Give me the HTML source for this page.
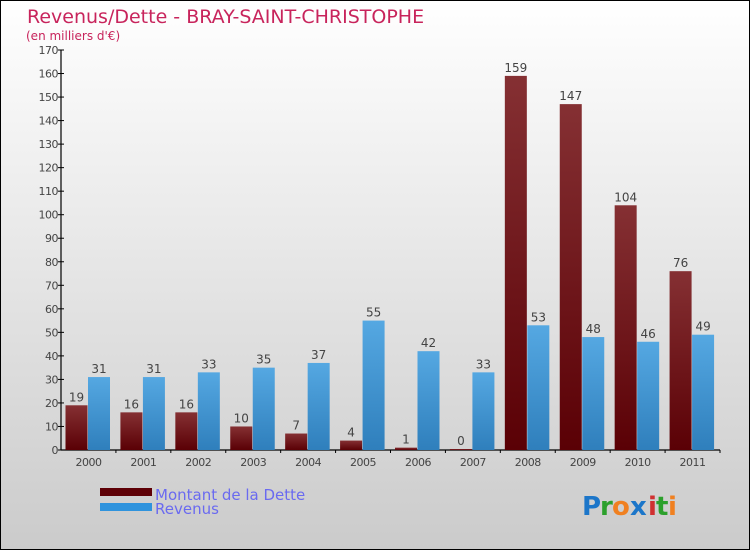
<!DOCTYPE html>
<html><head><meta charset="utf-8"><style>
body{margin:0;}
#c{width:750px;height:550px;position:relative;font-family:"DejaVu Sans","Liberation Sans",sans-serif;}
</style></head><body>
<div id="c">
<svg width="750" height="550" xmlns="http://www.w3.org/2000/svg" id="svg">
<defs>
<linearGradient id="bg" x1="0" y1="0" x2="0" y2="1"><stop offset="0" stop-color="#ffffff"/><stop offset="1" stop-color="#cbcbcb"/></linearGradient>
<linearGradient id="gd" x1="0" y1="0" x2="0" y2="1"><stop offset="0" stop-color="#853033"/><stop offset="1" stop-color="#5a0005"/></linearGradient>
<linearGradient id="gr" x1="0" y1="0" x2="0" y2="1"><stop offset="0" stop-color="#55a8e2"/><stop offset="1" stop-color="#2f7fbc"/></linearGradient>
</defs>
<rect x="0.5" y="0.5" width="749" height="549" fill="url(#bg)" stroke="#000"/>
<text x="27" y="23" font-size="19" fill="#c8245c">Revenus/Dette - BRAY-SAINT-CHRISTOPHE</text>
<text x="26" y="40" font-size="12" fill="#c8245c">(en milliers d'€)</text>
<g id="axes"></g>
<g id="bars"></g>
<rect x="100" y="488" width="52" height="8" fill="#5e0006"/>
<rect x="100" y="503" width="52" height="8" fill="#2f93dd"/>
<text x="155" y="500" font-size="15" fill="#6a6af0">Montant de la Dette</text>
<text x="155" y="514" font-size="15" fill="#6a6af0">Revenus</text>
<g font-size="26" font-weight="bold">
<text x="582" y="515" fill="#1c76c9">P</text><text x="600" y="515" fill="#2ca02c">r</text><text x="612" y="515" fill="#f08020">o</text><text x="630" y="515" fill="#1c76c9">x</text><text x="648" y="515" fill="#d03030">i</text><text x="656" y="515" fill="#2ca02c">t</text><text x="668" y="515" fill="#f08020">i</text>
</g>
</svg>
</div>
<script>
const years=["2000","2001","2002","2003","2004","2005","2006","2007","2008","2009","2010","2011"];
const dette=[19,16,16,10,7,4,1,0,159,147,104,76];
const revenus=[31,31,33,35,37,55,42,33,53,48,46,49];
const yTicks=[0,10,20,30,40,50,60,70,80,90,100,110,120,130,140,150,160,170];
const NS="http://www.w3.org/2000/svg";
const x0=61,x1=720,y0=450,yTop=50,yMax=170;
const gw=(x1-x0)/years.length;
const y=v=>y0-(v/yMax)*(y0-yTop);
function mk(tag,attrs,parent){const e=document.createElementNS(NS,tag);for(const k in attrs)e.setAttribute(k,attrs[k]);parent.appendChild(e);return e;}
const ax=document.getElementById('axes'),bg=document.getElementById('bars');
let l=mk('line',{x1:x0,y1:y0,x2:x1,y2:y0,stroke:'#000','stroke-width':1.2},ax);


l=mk('line',{x1:x0,y1:y0,x2:x0,y2:yTop,stroke:'#000','stroke-width':1.2},ax);


yTicks.forEach(t=>{
 const tk=mk('line',{x1:x0-3,x2:x0+3,y1:y(t),y2:y(t),stroke:'#000'},ax);
 
 
 const tx=mk('text',{x:x0-3,y:y(t)+4,'font-size':11,'text-anchor':'end',fill:'#444','letter-spacing':'-0.5'},ax);
 tx.textContent=t;
 
 
});
years.forEach((yr,i)=>{
 const gx=x0+i*gw;
 const tx=mk('text',{x:gx+gw/2,y:y0+16,'font-size':11,'text-anchor':'middle',fill:'#444','letter-spacing':'-0.5'},ax);
 tx.textContent=yr;
 
 
 const tk=mk('line',{x1:gx+gw,x2:gx+gw,y1:y0,y2:y0+3,stroke:'#000'},ax);
 
 
 [[dette[i],'url(#gd)',4.5,'bar-dette'],[revenus[i],'url(#gr)',27,'bar-revenus']].forEach(([v,f,off,nm])=>{
  const h=Math.max(y0-y(v),v===0?1:0);
  const r=mk('rect',{x:gx+off,y:y0-h,width:22,height:h,fill:f},bg);
  
  
  const lb=mk('text',{x:gx+off+11,y:y0-h-4,'font-size':12,'text-anchor':'middle',fill:'#444'},bg);
  lb.textContent=v;
  
  
 });
});
</script>
</body></html>
